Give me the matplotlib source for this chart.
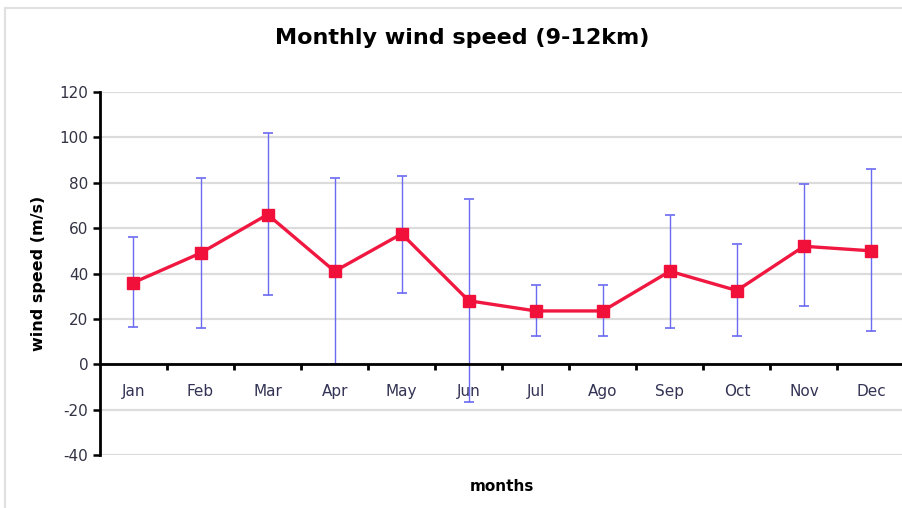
import numpy as np
import matplotlib
matplotlib.use('Agg')
import matplotlib.pyplot as plt
from matplotlib.ticker import FixedLocator

plt.rcParams['axes.unicode_minus'] = False

# monthly mean wind speed with min/max range
months = ['Jan', 'Feb', 'Mar', 'Apr', 'May', 'Jun', 'Jul', 'Ago', 'Sep', 'Oct', 'Nov', 'Dec']
speed = [36, 49, 66, 41, 57.5, 28, 23.5, 23.5, 41, 32.5, 52, 50]
speed_high = [56, 82, 102, 82, 83, 73, 35, 35, 66, 53, 79.5, 86]
speed_low = [16.5, 16, 30.5, 0.3, 31.5, -16.5, 12.5, 12.5, 16, 12.5, 25.5, 14.5]

x = np.arange(len(months))
speed = np.array(speed)
err = [speed - np.array(speed_low), np.array(speed_high) - speed]

fig = plt.figure(figsize=(9.03, 5.08), dpi=100)
ax = fig.add_axes([0.1107, 0.1043, 0.8910, 0.7146])

ax.set_ylim(-40, 120)
ax.set_xlim(-0.5, 11.5)
ax.set_yticks(np.arange(-40, 121, 20))
ax.yaxis.grid(True, color='#dcdcdc', linewidth=1.6)
ax.set_axisbelow(True)

ax.errorbar(x, speed, yerr=err, fmt='none', ecolor='#6a6af2', elinewidth=1.0,
            capsize=3.5, capthick=1.2, zorder=2)
ax.plot(x, speed, color='#f01840', linewidth=2.4, marker='s', markersize=8,
        markerfacecolor='#f0103a', markeredgecolor='#f0103a', zorder=3)

# category axis sits on y = 0, ticks between months, labels centred
for s in ['top', 'right']:
    ax.spines[s].set_visible(False)
ax.spines['bottom'].set_position(('data', 0))
ax.spines['bottom'].set_linewidth(2)
ax.spines['left'].set_linewidth(2)
ax.xaxis.set_major_locator(FixedLocator(np.arange(0.5, 11.5, 1)))
ax.xaxis.set_minor_locator(FixedLocator(x))
ax.set_xticklabels([], minor=False)
ax.set_xticklabels(months, minor=True)
ax.tick_params(axis='x', which='major', direction='out', length=4, width=2)
ax.tick_params(axis='x', which='minor', length=0, pad=14, labelsize=11, labelcolor='#333355')
ax.tick_params(axis='y', direction='out', length=5, width=1.8, labelsize=11, labelcolor='#333344')

fig.text(0.512, 0.925, 'Monthly wind speed (9-12km)', ha='center', va='center',
         fontsize=16, fontweight='bold')
fig.text(0.0426, 0.462, 'wind speed (m/s)', ha='center', va='center', rotation=90,
         fontsize=11.5, fontweight='bold')
fig.text(0.556, 0.043, 'months', ha='center', va='center', fontsize=11, fontweight='bold')

# faint chart frame
fig.add_artist(plt.Line2D([0.006, 0.006], [0.0, 0.985], color='#e0e0e0', linewidth=1.5,
                          transform=fig.transFigure))
fig.add_artist(plt.Line2D([0.006, 1.0], [0.985, 0.985], color='#e0e0e0', linewidth=1.5,
                          transform=fig.transFigure))

fig.savefig('out.png', dpi=100)
